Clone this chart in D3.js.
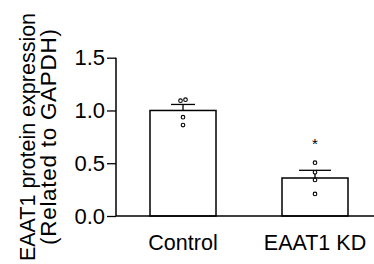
<!DOCTYPE html>
<meta charset="utf-8">
<style>
  body { margin: 0; background: #fff; }
  svg { display: block; }
  text { font-family: "Liberation Sans", Arial, Helvetica, sans-serif; fill: #000; }
</style>
<body>
<svg id="chart" width="374" height="264"></svg>
<script src="https://d3js.org/d3.v7.min.js"></script>
<script>
// data
var groups = ["Control", "EAAT1 KD"];
var means = [1.0, 0.36];
var sems = [0.057, 0.073];
var controlDots = [1.093, 1.102, 0.936, 0.862];
var kdDots = [0.505, 0.414, 0.341, 0.209];
var yTicks = [0.0, 0.5, 1.0, 1.5];
var marks = ["", "*"];

var svg = d3.select("#chart");

var y = d3.scaleLinear().domain([0, 1.5]).range([216, 57.7]);
var x = d3.scaleBand().domain(groups).range([117, 381])
  .paddingInner(0.5).paddingOuter(0.25);

// bars
svg.selectAll("rect.bar").data(groups).enter().append("rect")
  .attr("class", "bar")
  .attr("x", function(d) { return x(d); })
  .attr("width", x.bandwidth())
  .attr("y", function(d, i) { return y(means[i]); })
  .attr("height", function(d, i) { return y(0) - y(means[i]); })
  .attr("fill", "#fff").attr("stroke", "#000").attr("stroke-width", 1.5);

// error bars (upper only)
var cx = function(d) { return x(d) + x.bandwidth() / 2; };
var eb = svg.selectAll("g.err").data(groups).enter().append("g").attr("class", "err");
eb.append("line")
  .attr("x1", cx).attr("x2", cx)
  .attr("y1", function(d, i) { return y(means[i]); })
  .attr("y2", function(d, i) { return y(means[i] + sems[i]); })
  .attr("stroke", "#000").attr("stroke-width", 1.3);
eb.append("line")
  .attr("x1", function(d, i) { return cx(d) - (i ? 16 : 12); })
  .attr("x2", function(d, i) { return cx(d) + (i ? 16 : 12); })
  .attr("y1", function(d, i) { return y(means[i] + sems[i]); })
  .attr("y2", function(d, i) { return y(means[i] + sems[i]); })
  .attr("stroke", "#000").attr("stroke-width", 1.3);

// individual points, nudged sideways when they nearly overlap
var pts = [];
[controlDots, kdDots].forEach(function(arr, gi) {
  arr.forEach(function(v, j) {
    var near = arr.findIndex(function(w, k) { return k !== j && Math.abs(w - v) < 0.03; });
    var off = near < 0 ? 0 : (j < near ? -2.5 : 2.5);
    pts.push({ g: groups[gi], v: v, off: off });
  });
});
svg.selectAll("circle.pt").data(pts).enter().append("circle")
  .attr("class", "pt")
  .attr("cx", function(d) { return cx(d.g) + d.off; })
  .attr("cy", function(d) { return y(d.v); })
  .attr("r", 1.8)
  .attr("fill", "#fff").attr("stroke", "#000").attr("stroke-width", 1.1);

// significance marks
svg.selectAll("text.sig").data(groups).enter().append("text")
  .attr("class", "sig")
  .attr("x", cx)
  .attr("y", function(d, i) { return y(kdDots[0]) - 14; })
  .attr("text-anchor", "middle")
  .style("font-size", "15px")
  .text(function(d, i) { return marks[i]; });

// y axis
var yAxis = d3.axisLeft(y).tickValues(yTicks).tickFormat(d3.format(".1f"))
  .tickSize(9).tickPadding(2);
var gy = svg.append("g").attr("transform", "translate(116,0)").call(yAxis);
gy.select(".domain").attr("d", "M0," + y(1.5) + "V" + y(0)).attr("stroke-width", 1.5);
gy.selectAll(".tick line").attr("stroke-width", 1.3);
gy.selectAll(".tick text").style("font-size", "22px").attr("font-family", null);

// x baseline
svg.append("line")
  .attr("x1", 116).attr("x2", 374)
  .attr("y1", y(0)).attr("y2", y(0))
  .attr("stroke", "#000").attr("stroke-width", 1.5);

// category labels
svg.selectAll("text.cat").data(groups).enter().append("text")
  .attr("class", "cat")
  .attr("x", cx)
  .attr("y", 250)
  .attr("text-anchor", "middle")
  .style("font-size", "21.5px")
  .text(function(d) { return d; });

// y title
var yt = svg.append("text")
  .attr("transform", "translate(35,137) rotate(-90)")
  .attr("text-anchor", "middle")
  .style("font-size", "21.5px");
yt.append("tspan").attr("x", 0).attr("y", 0).text("EAAT1 protein expression");
yt.append("tspan").attr("x", 0).attr("y", 20.5)
  .style("font-size", "22.5px")
  .attr("textLength", 216).attr("lengthAdjust", "spacing")
  .text("(Related to GAPDH)");
</script>
</body>
